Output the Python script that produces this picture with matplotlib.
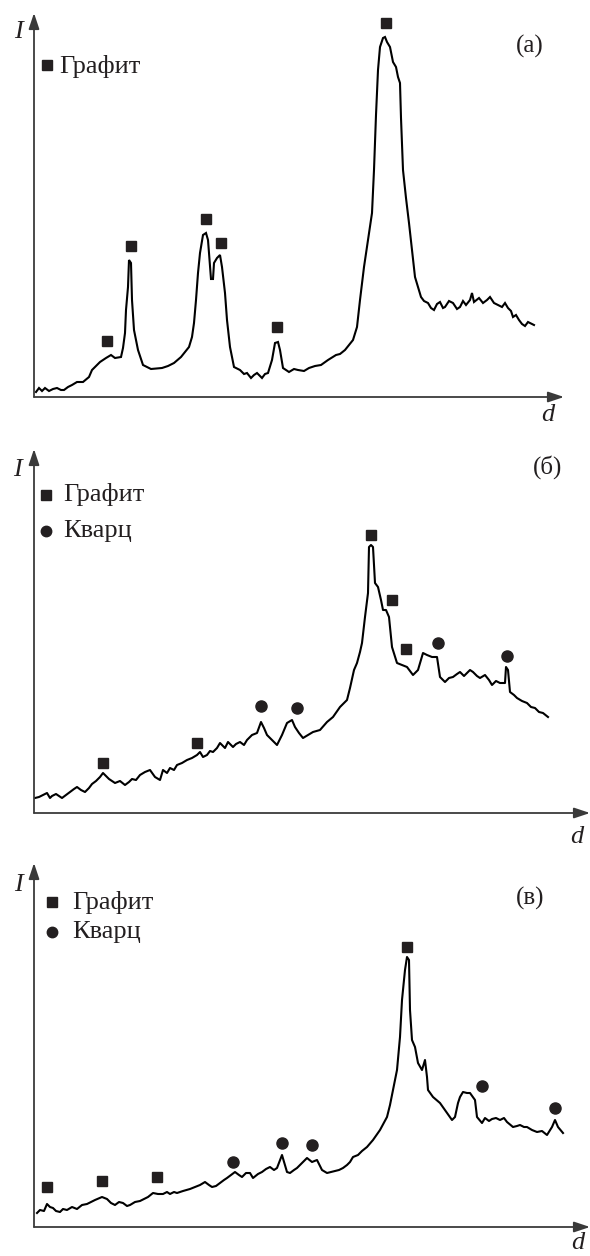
import matplotlib
matplotlib.use("Agg")
import matplotlib.pyplot as plt

W, H = 590, 1256

# ---------------- data (arbitrary units) ----------------
# Panel (а): Графит only
a_d = [2, 5, 8, 11, 15, 19, 23, 27, 30, 34, 38, 43, 49, 55, 58, 62, 66, 72, 77, 81, 87,
       89, 91, 92, 94, 95, 97, 98, 100, 104, 109, 117, 128, 134, 140, 147, 155, 158, 160,
       162, 164, 166, 169, 172, 174, 177, 179, 180, 183, 186, 188, 191, 193, 196, 200,
       206, 210, 213, 217, 220, 223, 228, 231, 234, 238, 241, 244, 246, 249, 255, 260,
       264, 270, 275, 281, 287, 294, 302, 306, 311, 319, 323, 326, 330, 334, 338, 340,
       342, 344, 346, 349, 351, 353, 356, 359, 362, 364, 366, 367, 369, 372, 375, 381,
       387, 390, 394, 397, 400, 403, 406, 409, 411, 415, 419, 423, 426, 429, 432, 436,
       438, 440, 445, 449, 453, 456, 460, 464, 468, 471, 474, 477, 479, 482, 485, 488,
       491, 494, 496, 500]
a_I = [5, 9, 6, 9, 6, 8, 9, 7, 7, 10, 12, 15, 15, 20, 27, 31, 35, 39, 42, 39, 40,
       49, 64, 87, 110, 137, 134, 97, 67, 47, 32, 28, 29, 31, 34, 40, 50, 60, 74,
       97, 124, 144, 162, 164, 157, 118, 118, 134, 139, 142, 130, 104, 77, 50, 30,
       27, 23, 24, 19, 22, 24, 19, 23, 24, 37, 54, 55, 47, 29, 25, 28,
       27, 26, 29, 31, 32, 37, 42, 43, 47, 57, 70, 97, 130, 157, 184, 227,
       282, 327, 350, 359, 360, 355, 350, 335, 330, 320, 314, 279, 227, 199, 174, 120,
       100, 96, 94, 89, 87, 93, 95, 89, 90, 96, 94, 88, 90, 96, 92, 97,
       104, 95, 99, 94, 97, 100, 94, 92, 90, 94, 89, 86, 80, 82, 77, 73,
       71, 75, 74, 72]
a_gr_d = [73, 97, 172, 187, 243, 352]
a_gr_I = [56, 151, 178, 154, 70, 374]

# Panel (б): Графит + Кварц
b_d = [1, 5, 9, 13, 16, 18, 22, 28, 32, 36, 40, 43, 47, 51, 55, 58, 62, 66, 69, 72, 75,
       81, 86, 91, 95, 98, 102, 106, 111, 116, 121, 126, 129, 133, 136, 140, 143, 148,
       153, 158, 163, 166, 169, 173, 176, 179, 183, 186, 191, 194, 199, 202, 206, 210,
       213, 218, 223, 227, 230, 233, 238, 243, 248, 253, 258, 261, 265, 269, 274, 279,
       286, 293, 299, 306, 313, 316, 320, 323, 326, 328, 331, 334, 335, 337, 339, 341,
       344, 347, 349, 352, 355, 358, 363, 368, 373, 379, 384, 389, 393, 398, 403, 406,
       411, 415, 419, 423, 426, 430, 433, 436, 439, 443, 446, 451, 455, 458, 462, 466,
       471, 472, 474, 476, 480, 483, 488, 493, 497, 501, 505, 509, 514]
b_I = [15, 16, 18, 20, 15, 17, 19, 15, 18, 21, 24, 26, 23, 21, 25, 29, 32, 36, 40, 37, 34,
       30, 32, 28, 31, 34, 33, 38, 41, 43, 36, 33, 43, 40, 45, 43, 48, 50,
       53, 55, 58, 61, 56, 58, 62, 61, 65, 70, 65, 71, 66, 69, 71, 68,
       73, 78, 80, 91, 85, 78, 73, 68, 78, 90, 93, 86, 80, 75, 78, 81,
       83, 91, 96, 106, 113, 125, 143, 150, 161, 170, 196, 220, 266, 268, 266, 230,
       226, 213, 203, 203, 196, 166, 150, 148, 146, 138, 143, 160, 158, 156, 156, 136,
       131, 135, 136, 139, 141, 137, 140, 143, 141, 137, 135, 138, 133, 128, 132, 130,
       130, 146, 143, 121, 118, 115, 112, 110, 106, 105, 101, 100, 96]
b_gr_d = [69, 163, 337, 358, 372]
b_gr_I = [50, 70, 278, 213, 164]
b_q_d = [227, 263, 404, 473]
b_q_I = [107, 105, 170, 157]

# Panel (в): Графит + Кварц
c_d = [3, 6, 10, 13, 16, 19, 22, 26, 29, 33, 38, 43, 48, 53, 57, 61, 68, 73, 77, 81, 85,
       89, 93, 96, 101, 106, 114, 119, 124, 129, 133, 136, 140, 143, 149, 156, 161, 166,
       171, 175, 178, 182, 186, 190, 193, 197, 201, 205, 208, 212, 216, 219, 224, 228,
       232, 236, 240, 243, 248, 253, 256, 260, 263, 266, 269, 273, 278, 283, 288, 293,
       297, 301, 305, 309, 313, 316, 319, 324, 328, 333, 339, 346, 353, 356, 359, 363,
       366, 368, 371, 373, 375, 376, 378, 381, 384, 388, 391, 393, 394, 399, 406, 413,
       418, 421, 424, 426, 429, 433, 436, 441, 443, 448, 451, 455, 458, 462, 466, 470,
       473, 479, 483, 486, 490, 493, 498, 503, 508, 513, 518, 521, 524, 529]
c_I = [14, 17, 16, 23, 20, 19, 16, 15, 18, 17, 20, 18, 22, 23, 25, 27, 30, 28, 24, 22, 25,
       24, 21, 22, 25, 26, 30, 34, 33, 33, 35, 33, 35, 34, 36, 38, 40, 42,
       45, 42, 40, 41, 44, 47, 49, 52, 55, 52, 50, 54, 54, 49, 53, 55,
       58, 60, 57, 59, 72, 55, 54, 57, 59, 62, 65, 69, 65, 67, 57, 54,
       55, 56, 57, 59, 62, 65, 70, 72, 76, 80, 87, 97, 110, 122, 137, 157,
       190, 227, 257, 270, 267, 217, 187, 180, 164, 157, 167, 150, 137, 130, 124, 114,
       107, 110, 124, 130, 135, 134, 134, 127, 110, 104, 109, 106, 108, 109, 107, 109,
       105, 100, 101, 102, 100, 100, 97, 95, 96, 92, 100, 107, 100, 94]
c_gr_d = [13, 68, 123, 373]
c_gr_I = [40, 46, 50, 280]
c_q_d = [199, 248, 278, 448, 521]
c_q_I = [65, 84, 82, 141, 119]

legend_gr = "Графит"
legend_q = "Кварц"
panel_tags = ["(а)", "(б)", "(в)"]

# ---------------- drawing ----------------
SERIF = ["Liberation Serif", "DejaVu Serif"]
INK = "#231f20"
AXC = "#3a3a3a"

fig = plt.figure(figsize=(W / 100, H / 100), dpi=100)


def make_ax(top_px, origin_px):
    ax = fig.add_axes([34 / W, 1 - origin_px / H, (W - 34) / W, (origin_px - top_px) / H])
    ax.set_xlim(0, W - 34)
    ax.set_ylim(0, origin_px - top_px)
    ax.axis("off")
    return ax


def axes_arrows(ax, x_tip, y_tip):
    style = "-|>,head_length=0.6,head_width=0.2"
    ax.annotate("", xy=(x_tip, 0), xytext=(0, 0),
                arrowprops=dict(arrowstyle=style, color=AXC, lw=1.3,
                                shrinkA=0, shrinkB=0, mutation_scale=16),
                annotation_clip=False)
    ax.annotate("", xy=(0, y_tip), xytext=(0, 0),
                arrowprops=dict(arrowstyle=style, color=AXC, lw=1.3,
                                shrinkA=0, shrinkB=0, mutation_scale=16),
                annotation_clip=False)


def labels(ax, ipos, dpos, tag, tagpos):
    ax.text(*ipos, "I", family=SERIF, style="italic", fontsize=19, color=INK,
            ha="center", va="center")
    ax.text(*dpos, "d", family=SERIF, style="italic", fontsize=19, color=INK,
            ha="center", va="center", clip_on=False)
    ax.text(*tagpos, tag, family=SERIF, fontsize=18, color=INK, ha="center", va="center")


LW = 1.5
SQ = 7.2
CI = 8.0

# Panel (а)
ax1 = make_ax(0, 397)
axes_arrows(ax1, 530, 384)
ax1.plot(a_d, a_I, color="black", lw=LW, solid_joinstyle="miter")
ax1.plot(a_gr_d, a_gr_I, ls="none", marker="s", ms=SQ, color=INK)
ax1.plot([13], [332], ls="none", marker="s", ms=6.5, color=INK)
ax1.text(25, 331, legend_gr, family=SERIF, fontsize=19, color=INK, va="center")
labels(ax1, (-16, 365), (514, -18), panel_tags[0], (496, 351))

# Panel (б)
ax2 = make_ax(420, 813)
axes_arrows(ax2, 556, 364)
ax2.plot(b_d, b_I, color="black", lw=LW)
ax2.plot(b_gr_d, b_gr_I, ls="none", marker="s", ms=SQ, color=INK)
ax2.plot(b_q_d, b_q_I, ls="none", marker="o", ms=CI, color=INK)
ax2.plot([12], [318], ls="none", marker="s", ms=7, color=INK)
ax2.plot([12], [282], ls="none", marker="o", ms=7.5, color=INK)
ax2.text(29, 318, legend_gr, family=SERIF, fontsize=19, color=INK, va="center")
ax2.text(29, 282, legend_q, family=SERIF, fontsize=19, color=INK, va="center")
labels(ax2, (-17, 343), (543, -24), panel_tags[1], (514, 346))

# Panel (в)
ax3 = make_ax(840, 1227)
axes_arrows(ax3, 556, 364)
ax3.plot(c_d, c_I, color="black", lw=LW)
ax3.plot(c_gr_d, c_gr_I, ls="none", marker="s", ms=SQ, color=INK)
ax3.plot(c_q_d, c_q_I, ls="none", marker="o", ms=CI, color=INK)
ax3.plot([18], [325], ls="none", marker="s", ms=7, color=INK)
ax3.plot([18], [295], ls="none", marker="o", ms=7.5, color=INK)
ax3.text(38, 325, legend_gr, family=SERIF, fontsize=19, color=INK, va="center")
ax3.text(38, 295, legend_q, family=SERIF, fontsize=19, color=INK, va="center")
labels(ax3, (-16, 342), (544, -16), panel_tags[2], (496, 329))

fig.savefig("out.png", dpi=100)
